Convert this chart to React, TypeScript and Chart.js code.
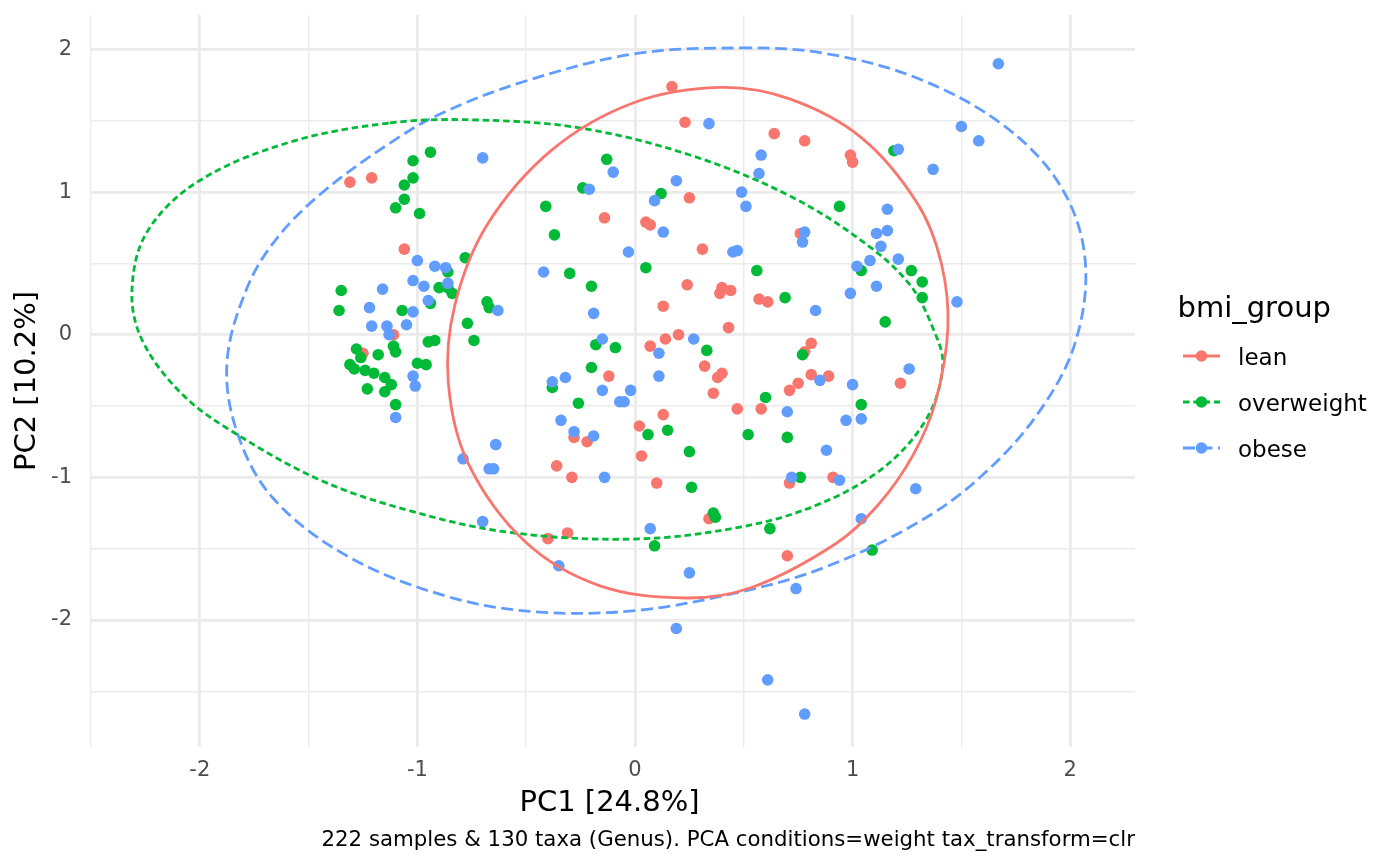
import React, { useEffect, useRef } from 'react';
import { Chart, registerables } from 'chart.js';

Chart.register(...registerables);

const GROUPS = ['lean', 'overweight', 'obese'];
const COLORS = ['#F8766D', '#00BA38', '#619CFF'];
const DASHES: number[][] = [[], [6.5, 3.8], [12, 5.5]];
const X_TICKS = [-2.5, -2, -1.5, -1, -0.5, 0, 0.5, 1, 1.5, 2];
const Y_TICKS = [-2.5, -2, -1.5, -1, -0.5, 0, 0.5, 1, 1.5, 2];
const X_RANGE = [-2.5, 2.298];
const Y_RANGE = [-2.891, 2.242];
const X_TITLE = 'PC1 [24.8%]';
const Y_TITLE = 'PC2 [10.2%]';
const LEGEND_TITLE = 'bmi_group';
const CAPTION = '222 samples & 130 taxa (Genus). PCA conditions=weight tax_transform=clr';

const leanPoints: number[][] = [
  [-1.31, 1.07], [-1.21, 1.10], [-1.06, 0.60], [-1.11, 0.00], [-1.25, -0.13], [-0.12, -0.29],
  [-0.28, -0.72], [-0.22, -0.75], [-0.36, -0.92], [-0.29, -1.00], [0.24, 0.35], [0.13, 0.20],
  [0.40, 0.33], [0.39, 0.29], [0.44, 0.31], [0.57, 0.25], [0.61, 0.23], [0.43, 0.05],
  [0.07, -0.08], [0.14, -0.03], [0.20, 0.00], [0.32, -0.22], [0.38, -0.30], [0.40, -0.27],
  [0.36, -0.41], [0.71, -0.39], [0.75, -0.34], [0.47, -0.52], [0.58, -0.52], [0.02, -0.64],
  [0.13, -0.56], [0.03, -0.85], [0.10, -1.04], [0.71, -1.04], [0.17, 1.74], [0.23, 1.49],
  [0.64, 1.41], [0.78, 1.36], [0.25, 0.96], [-0.14, 0.82], [0.05, 0.79], [0.07, 0.77],
  [0.31, 0.60], [0.76, 0.71], [0.99, 1.26], [1.00, 1.21], [0.81, -0.06], [0.78, -0.12],
  [0.81, -0.28], [0.89, -0.29], [1.22, -0.34], [0.91, -1.00], [-0.40, -1.43], [-0.31, -1.39],
  [0.34, -1.29], [0.70, -1.55],
];

const overweightPoints: number[][] = [
  [-0.94, 1.28], [-1.02, 1.22], [-1.02, 1.10], [-1.06, 1.05], [-1.06, 0.95], [-1.10, 0.89],
  [-0.99, 0.85], [-0.86, 0.44], [-0.90, 0.33], [-0.86, 0.33], [-0.94, 0.22], [-1.35, 0.31],
  [-1.36, 0.17], [-1.07, 0.17], [-0.95, -0.05], [-0.92, -0.04], [-1.28, -0.10], [-1.26, -0.16],
  [-1.18, -0.14], [-1.11, -0.08], [-1.10, -0.12], [-1.00, -0.20], [-0.96, -0.21], [-1.31, -0.21],
  [-1.29, -0.24], [-1.24, -0.25], [-1.20, -0.27], [-1.15, -0.30], [-1.12, -0.35], [-1.23, -0.38],
  [-1.15, -0.40], [-1.10, -0.49], [-0.84, 0.29], [-0.78, 0.54], [-0.68, 0.23], [-0.67, 0.19],
  [-0.77, 0.08], [-0.74, -0.04], [-0.30, 0.43], [-0.20, 0.34], [-0.18, -0.07], [-0.09, -0.09],
  [-0.20, -0.23], [-0.38, -0.37], [-0.26, -0.48], [0.05, 0.47], [0.56, 0.45], [0.69, 0.26],
  [0.33, -0.11], [0.60, -0.44], [0.06, -0.70], [0.15, -0.67], [0.52, -0.70], [0.70, -0.72],
  [0.25, -0.82], [0.26, -1.07], [0.76, -1.00], [-0.13, 1.23], [-0.24, 1.03], [0.12, 0.99],
  [-0.41, 0.90], [-0.37, 0.70], [1.19, 1.29], [0.94, 0.90], [1.04, 0.45], [1.27, 0.45],
  [1.32, 0.37], [1.32, 0.26], [1.15, 0.09], [0.77, -0.14], [1.04, -0.49], [0.09, -1.48],
  [0.36, -1.25], [0.37, -1.28], [0.62, -1.36], [1.09, -1.51],
];

const obesePoints: number[][] = [
  [-1.00, 0.52], [-0.92, 0.48], [-0.87, 0.47], [-0.86, 0.36], [-1.02, 0.38], [-0.97, 0.34],
  [-0.95, 0.24], [-1.16, 0.32], [-1.22, 0.19], [-1.02, 0.16], [-1.21, 0.06], [-1.14, 0.06],
  [-1.13, 0.00], [-1.05, 0.07], [-1.02, -0.29], [-1.01, -0.36], [-1.10, -0.58], [-0.63, 0.17],
  [-0.42, 0.44], [-0.19, 0.15], [-0.15, -0.03], [-0.38, -0.33], [-0.32, -0.30], [-0.15, -0.39],
  [-0.02, -0.39], [-0.07, -0.47], [-0.05, -0.47], [-0.34, -0.60], [-0.28, -0.68], [-0.19, -0.71],
  [-0.64, -0.77], [-0.79, -0.87], [-0.67, -0.94], [-0.65, -0.94], [-0.14, -1.00], [0.27, -0.03],
  [0.11, -0.13], [0.11, -0.29], [0.70, -0.54], [0.72, -1.00], [-0.70, 1.24], [0.34, 1.48],
  [-0.10, 1.14], [0.58, 1.26], [0.57, 1.13], [0.19, 1.08], [-0.21, 1.02], [0.09, 0.94],
  [0.49, 1.00], [0.51, 0.90], [0.13, 0.72], [0.45, 0.58], [0.47, 0.59], [-0.03, 0.58],
  [0.78, 0.72], [0.77, 0.65], [1.67, 1.90], [1.50, 1.46], [1.58, 1.36], [1.21, 1.30],
  [1.37, 1.16], [1.16, 0.88], [1.16, 0.73], [1.11, 0.71], [1.13, 0.62], [1.08, 0.52],
  [1.21, 0.53], [1.02, 0.48], [0.99, 0.29], [1.11, 0.34], [1.48, 0.23], [0.83, 0.17],
  [1.26, -0.24], [0.85, -0.32], [1.00, -0.35], [0.97, -0.60], [1.04, -0.59], [0.88, -0.81],
  [0.94, -1.02], [1.29, -1.08], [-0.70, -1.31], [-0.35, -1.62], [0.07, -1.36], [0.25, -1.67],
  [0.74, -1.78], [0.19, -2.06], [0.61, -2.42], [0.78, -2.66], [1.04, -1.29],
];

// ellipse outlines (clockwise from the top)
const leanEllipse: number[][] = [
  [0.391, 1.734], [0.714, 1.652], [1.043, 1.379], [1.301, 0.914], [1.408, 0.501],
  [1.438, 0.047], [1.381, -0.470], [1.278, -0.844], [1.117, -1.194], [0.924, -1.464],
  [0.542, -1.769], [0.239, -1.846], [-0.164, -1.759], [-0.504, -1.452], [-0.767, -0.900],
  [-0.858, -0.334], [-0.828, 0.206], [-0.680, 0.769], [-0.383, 1.294], [-0.009, 1.625],
];

const overweightEllipse: number[][] = [
  [-1.126, 1.485], [-0.746, 1.507], [-0.253, 1.450], [0.253, 1.260], [0.712, 0.973],
  [1.063, 0.635], [1.264, 0.349], [1.369, 0.047], [1.415, -0.212], [1.342, -0.584],
  [1.140, -0.935], [0.836, -1.194], [0.483, -1.349], [-0.009, -1.433], [-0.588, -1.384],
  [-1.048, -1.229], [-1.447, -1.019], [-1.847, -0.682], [-2.077, -0.423], [-2.261, -0.051],
  [-2.312, 0.299], [-2.244, 0.717], [-2.006, 1.076], [-1.585, 1.351],
];

const obeseEllipse: number[][] = [
  [0.483, 2.011], [0.864, 1.975], [1.296, 1.800], [1.691, 1.471], [1.953, 1.050],
  [2.068, 0.538], [2.024, -0.052], [1.847, -0.563], [1.572, -1.019], [1.282, -1.333],
  [0.864, -1.636], [0.483, -1.804], [0.023, -1.931], [-0.437, -1.945], [-0.855, -1.839],
  [-1.319, -1.555], [-1.664, -1.145], [-1.829, -0.682], [-1.875, -0.191], [-1.783, 0.327],
  [-1.645, 0.678], [-1.434, 1.001], [-1.126, 1.344], [-0.890, 1.552], [-0.517, 1.772],
  [-0.009, 1.968],
];

const POINT_SETS = [leanPoints, overweightPoints, obesePoints];
const ELLIPSE_SETS = [leanEllipse, overweightEllipse, obeseEllipse];

const FONT = "'DejaVu Sans'";
const POINT_R = 5.8;
const LINE_W = 2.8;

const toXY = (arr: number[][]) => arr.map(([x, y]) => ({ x, y }));

const overlayPlugin = {
  id: 'overlayText',
  afterDraw(chart: any) {
    const ctx = chart.ctx as CanvasRenderingContext2D;
    const a = chart.chartArea;
    ctx.save();
    ctx.fillStyle = '#000000';
    ctx.font = `29px ${FONT}`;
    ctx.textAlign = 'center';
    ctx.textBaseline = 'alphabetic';
    ctx.fillText(X_TITLE, (a.left + a.right) / 2 - 3.5, a.bottom + 64);
    ctx.save();
    ctx.translate(a.left - 56, (a.top + a.bottom) / 2);
    ctx.rotate(-Math.PI / 2);
    ctx.fillText(Y_TITLE, 0, 0);
    ctx.restore();
    ctx.font = `21.3px ${FONT}`;
    ctx.textAlign = 'right';
    ctx.fillText(CAPTION, a.right, a.bottom + 99);
    const lx = a.right + 48;
    ctx.textAlign = 'left';
    ctx.font = `29px ${FONT}`;
    ctx.fillText(LEGEND_TITLE, lx - 5.5, a.top + 302);
    for (let i = 0; i < GROUPS.length; i++) {
      const y = a.top + 341 + i * 46;
      ctx.strokeStyle = COLORS[i];
      ctx.lineWidth = LINE_W;
      ctx.setLineDash(DASHES[i]);
      ctx.beginPath();
      ctx.moveTo(lx, y);
      ctx.lineTo(lx + 37, y);
      ctx.stroke();
      ctx.setLineDash([]);
      ctx.fillStyle = COLORS[i];
      ctx.beginPath();
      ctx.arc(lx + 18.5, y, POINT_R, 0, Math.PI * 2);
      ctx.fill();
      ctx.fillStyle = '#000000';
      ctx.font = `23px ${FONT}`;
      ctx.fillText(GROUPS[i], lx + 55, y + 9);
    }
    ctx.restore();
  },
};

export default function App() {
  const ref = useRef<HTMLCanvasElement | null>(null);

  useEffect(() => {
    if (!ref.current) return;
    const datasets: any[] = [];
    ELLIPSE_SETS.forEach((e, i) => {
      const n = e.length;
      // wrap one point on each side so the closing joint is smooth; hide the wrap segments
      const loop = [e[n - 1], ...e, e[0], e[1]];
      datasets.push({
        label: GROUPS[i] + ' ellipse',
        data: toXY(loop),
        showLine: true,
        borderColor: COLORS[i],
        borderWidth: LINE_W,
        borderDash: DASHES[i],
        pointRadius: 0,
        pointHoverRadius: 0,
        tension: 0.35,
        fill: false,
        order: i,
        segment: {
          borderColor: (c: any) =>
            c.p0DataIndex === 0 || c.p0DataIndex === n + 1 ? 'rgba(0,0,0,0)' : undefined,
        },
      });
    });
    POINT_SETS.forEach((p, i) => {
      datasets.push({
        label: GROUPS[i],
        data: toXY(p),
        showLine: false,
        backgroundColor: COLORS[i],
        pointBackgroundColor: COLORS[i],
        pointBorderWidth: 0,
        pointRadius: POINT_R,
        pointHoverRadius: POINT_R,
        order: 10 - i,
      });
    });

    const gridWidth = (c: any) => (c.tick && Number.isInteger(c.tick.value) ? 2.8 : 1.4);
    const label = (v: any) => (Number.isInteger(Number(v)) ? String(v) : '');

    const chart = new Chart(ref.current, {
      type: 'scatter',
      data: { datasets },
      plugins: [overlayPlugin],
      options: {
        animation: false,
        responsive: false,
        devicePixelRatio: 1,
        events: [],
        layout: { padding: { left: 0, right: 265, top: 15, bottom: 0 } },
        plugins: { legend: { display: false }, tooltip: { enabled: false } },
        scales: {
          x: {
            type: 'linear',
            min: X_RANGE[0],
            max: X_RANGE[1],
            afterBuildTicks: (s: any) => { s.ticks = X_TICKS.map((v) => ({ value: v })); },
            afterFit: (s: any) => { s.height = 119; s.paddingLeft = 0; s.paddingRight = 0; },
            grid: { color: '#EBEBEB', lineWidth: gridWidth, drawTicks: false },
            border: { display: false },
            ticks: {
              autoSkip: false, maxRotation: 0, padding: 11, color: '#4D4D4D',
              font: { family: FONT, size: 21 }, callback: label,
            },
          },
          y: {
            type: 'linear',
            min: Y_RANGE[0],
            max: Y_RANGE[1],
            afterBuildTicks: (s: any) => { s.ticks = Y_TICKS.map((v) => ({ value: v })); },
            afterFit: (s: any) => { s.width = 91; s.paddingTop = 0; s.paddingBottom = 0; },
            grid: { color: '#EBEBEB', lineWidth: gridWidth, drawTicks: false },
            border: { display: false },
            ticks: {
              autoSkip: false, padding: 19, color: '#4D4D4D',
              font: { family: FONT, size: 21 }, callback: label,
            },
          },
        },
      } as any,
    });
    return () => chart.destroy();
  }, []);

  return (
    <div style={{ position: 'absolute', left: 0, top: 0, width: 1400, height: 866, background: '#ffffff' }}>
      <canvas ref={ref} width={1400} height={866} style={{ display: 'block', width: 1400, height: 866 }} />
    </div>
  );
}
